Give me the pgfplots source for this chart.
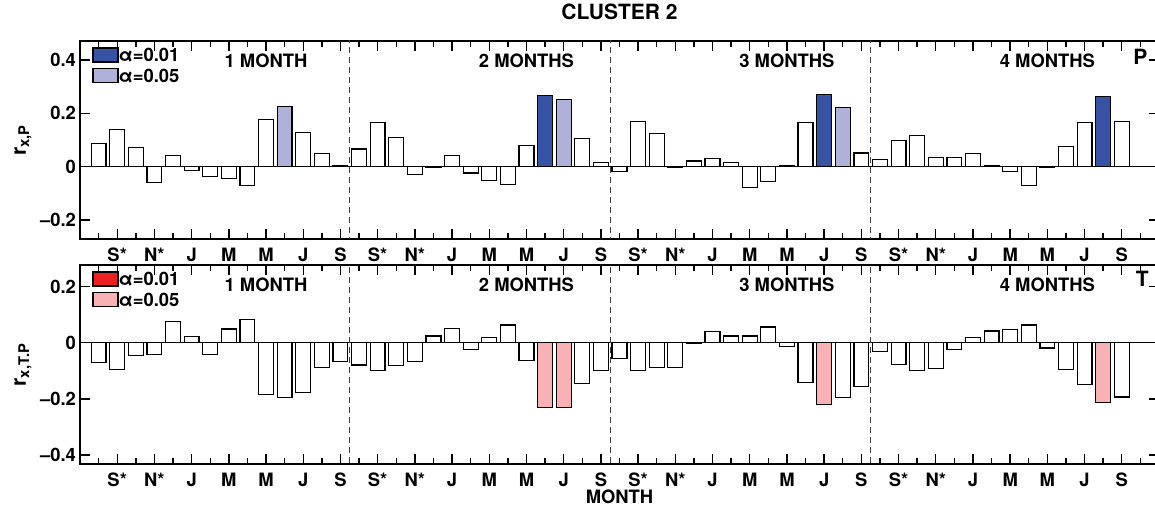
\documentclass[border=0pt]{standalone}
\usepackage{pgfplots}
\pgfplotsset{compat=1.18}
\usepackage{pgfplotstable}
\usepackage{fontspec}
\setmainfont{TeX Gyre Heros}
\definecolor{dblue}{HTML}{3953A4}
\definecolor{lblue}{HTML}{B0B1D8}
\definecolor{dred}{HTML}{ED2024}
\definecolor{lred}{HTML}{F8B1B5}

\pgfplotstableread{
x y
1 0.085
2 0.139
3 0.0725
4 -0.06
5 0.04
6 -0.015
7 -0.036
8 -0.044
9 -0.071
10 0.1775
11 0.224
12 0.129
13 0.05
14 0.004
15 0.066
16 0.164
17 0.11
18 -0.03
19 -0.004
20 0.04
21 -0.024
22 -0.051
23 -0.069
24 0.08
25 0.2675
26 0.25
27 0.106
28 0.016
29 -0.019
30 0.169
31 0.1225
32 -0.004
33 0.021
34 0.029
35 0.016
36 -0.079
37 -0.055
38 0.003
39 0.164
40 0.269
41 0.2225
42 0.051
43 0.0275
44 0.099
45 0.1175
46 0.0325
47 0.0325
48 0.0475
49 0.003
50 -0.02
51 -0.0725
52 -0.002
53 0.074
54 0.164
55 0.264
56 0.169
}\Ptab
\pgfplotstableread{
x y
25 0.2675
40 0.269
55 0.264
}\Pdark
\pgfplotstableread{
x y
11 0.224
26 0.25
41 0.2225
}\Plight
\pgfplotstableread{
x y
1 -0.071
2 -0.095
3 -0.045
4 -0.043
5 0.075
6 0.021
7 -0.043
8 0.049
9 0.082
10 -0.185
11 -0.195
12 -0.177
13 -0.087
14 -0.067
15 -0.079
16 -0.099
17 -0.082
18 -0.067
19 0.024
20 0.052
21 -0.024
22 0.018
23 0.063
24 -0.062
25 -0.231
26 -0.231
27 -0.145
28 -0.099
29 -0.057
30 -0.099
31 -0.088
32 -0.088
33 -0.003
34 0.040
35 0.024
36 0.024
37 0.056
38 -0.013
39 -0.142
40 -0.22
41 -0.194
42 -0.156
43 -0.031
44 -0.077
45 -0.099
46 -0.092
47 -0.023
48 0.020
49 0.042
50 0.048
51 0.063
52 -0.019
53 -0.096
54 -0.149
55 -0.214
56 -0.193
}\Ttab
\pgfplotstableread{
x y
25 -0.231
26 -0.231
40 -0.22
55 -0.214
}\Tlight

\newcommand{\fnt}{\fontsize{9.2}{11}\selectfont\bfseries}
\newcommand{\bfnt}{\fontsize{10.5}{12}\selectfont\bfseries}

\pgfplotsset{
 panel/.style={
  scale only axis, width=539.5pt, anchor=south west,
  xmin=0, xmax=58,
  xtick={2,4,...,56},
  xticklabels={S*,N*,J,M,M,J,S,S*,N*,J,M,M,J,S,S*,N*,J,M,M,J,S,S*,N*,J,M,M,J,S},
  minor xtick={1,3,...,57},
  tick align=inside,
  major tick length=5pt, minor tick length=3pt,
  axis line style={line width=1pt},
  every tick/.style={black, line width=0.7pt},
  tick label style={font=\fnt},
  label style={font=\fnt},
  title style={font=\bfnt},
  xticklabel style={yshift=-1pt, text depth=0pt},
  yticklabel style={xshift=1.5pt},
  ylabel style={at={(axis description cs:-0.0528,0.5)}, anchor=center, font=\bfnt},
  legend image code/.code={\draw[##1,line width=0.6pt] (0pt,-3.5pt) rectangle (12.5pt,3.5pt);},
  legend style={draw=none, fill=none, at={(axis description cs:0,1)}, anchor=north west, xshift=6pt, yshift=-3pt, inner sep=0pt, row sep=2.6pt, font=\fnt, nodes={inner sep=0pt, text depth=0pt, xshift=5.5pt}},
  legend cell align=left,
 },
 wbar/.style={ybar, bar shift=0pt, bar width=0.8, fill=white, draw=black, line width=0.6pt, forget plot},
 cbar/.style={ybar, bar shift=0pt, bar width=0.8, fill=#1, draw=black, line width=0.6pt, forget plot},
 vdash/.style={forget plot, black!75, line width=0.6pt, dash pattern=on 3pt off 2pt},
}

\begin{document}
\begin{tikzpicture}
\useasboundingbox (0,0) rectangle (577.5pt,254.5pt);
% ---------------- top panel ----------------
\begin{axis}[panel, at={(40pt,135pt)}, height=99pt,
  ymin=-0.272, ymax=0.471,
  ytick={-0.2,0,0.2,0.4}, yticklabels={\textendash0.2,0,0.2,0.4},
  ylabel={r\textsubscript{x,P}},
  title={CLUSTER 2},
  title style={at={(axis description cs:0.5,1)}, anchor=center, yshift=8.5pt},
]
\addplot[wbar] table[x=x,y=y] {\Ptab};
\addplot[cbar=dblue] table[x=x,y=y] {\Pdark};
\addplot[cbar=lblue] table[x=x,y=y] {\Plight};
\addplot[forget plot, black, line width=0.6pt] coordinates {(0,0) (58,0)};
\addplot[vdash] coordinates {(14.5,-1) (14.5,1)};
\addplot[vdash] coordinates {(28.5,-1) (28.5,1)};
\addplot[vdash] coordinates {(42.5,-1) (42.5,1)};
\addlegendimage{fill=dblue, draw=black}
\addlegendentry{α=0.01}
\addlegendimage{fill=lblue, draw=black}
\addlegendentry{α=0.05}
\node[font=\fnt] at (axis cs:10,0.396) {1 MONTH};
\node[font=\fnt] at (axis cs:24,0.396) {2 MONTHS};
\node[font=\fnt] at (axis cs:38,0.396) {3 MONTHS};
\node[font=\fnt] at (axis cs:52,0.396) {4 MONTHS};
\node[font=\bfnt] at (axis cs:57,0.4125) {P};
\end{axis}
% ---------------- bottom panel ----------------
\begin{axis}[panel, at={(40pt,22.5pt)}, height=99.5pt,
  ymin=-0.432, ymax=0.277,
  ytick={-0.4,-0.2,0,0.2}, yticklabels={\textendash0.4,\textendash0.2,0,0.2},
  ylabel={r\textsubscript{x,T.P}},
  xlabel={MONTH},
  xlabel style={at={(axis description cs:0.5,0)}, anchor=center, yshift=-16.6pt},
]
\addplot[wbar] table[x=x,y=y] {\Ttab};
\addplot[cbar=lred] table[x=x,y=y] {\Tlight};
\addplot[forget plot, black, line width=0.6pt] coordinates {(0,0) (58,0)};
\addplot[vdash] coordinates {(14.5,-1) (14.5,1)};
\addplot[vdash] coordinates {(28.5,-1) (28.5,1)};
\addplot[vdash] coordinates {(42.5,-1) (42.5,1)};
\addlegendimage{fill=dred, draw=black}
\addlegendentry{α=0.01}
\addlegendimage{fill=lred, draw=black}
\addlegendentry{α=0.05}
\node[font=\fnt] at (axis cs:10,0.206) {1 MONTH};
\node[font=\fnt] at (axis cs:24,0.206) {2 MONTHS};
\node[font=\fnt] at (axis cs:38,0.206) {3 MONTHS};
\node[font=\fnt] at (axis cs:52,0.206) {4 MONTHS};
\node[font=\bfnt] at (axis cs:57.1,0.226) {T};
\end{axis}
\end{tikzpicture}
\end{document}
